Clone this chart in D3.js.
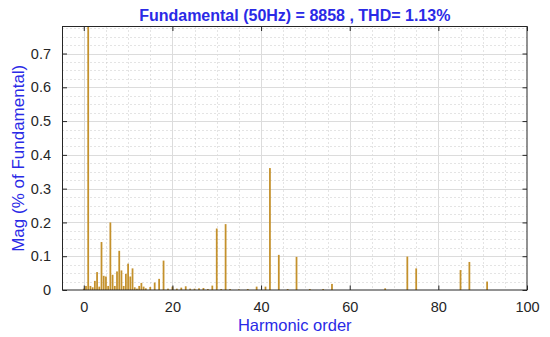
<!DOCTYPE html>
<html>
<head>
<meta charset="utf-8">
<script src="https://cdn.jsdelivr.net/npm/d3@7"></script>
<style>
  html, body { margin: 0; padding: 0; background: #ffffff; }
  svg { display: block; }
  text { font-family: "Liberation Sans", Arial, sans-serif; }
</style>
</head>
<body>
<svg id="chart" width="550" height="337"></svg>
<script>
// ---- data ----
const titleText = "Fundamental (50Hz) = 8858 , THD= 1.13%";
const xLabelText = "Harmonic order";
const yLabelText = "Mag (% of Fundamental)";

const harmonics = [0, 0.5, 1, 1.5, 2, 2.5, 3, 3.5, 4, 4.5, 5, 5.5, 6, 6.5, 7, 7.5, 8, 8.5, 9, 9.5,
  10, 10.5, 11, 11.5, 12, 12.5, 13, 13.5, 14, 15, 16, 17, 18, 19, 20, 21, 22, 23, 24, 25, 26, 27, 28, 29,
  30, 31, 32, 33, 35, 37, 39, 41, 42, 44, 46, 48, 51, 54, 56, 68, 73, 75, 85, 87, 91];
const magnitudes = [0.004, 0.012, 100, 0.012, 0.008, 0.027, 0.053, 0.010, 0.142, 0.042, 0.040, 0.012, 0.200, 0.045, 0.012, 0.055, 0.116, 0.058, 0.012, 0.048,
  0.078, 0.040, 0.064, 0.008, 0.004, 0.012, 0.021, 0.010, 0.005, 0.009, 0.022, 0.033, 0.087, 0.004, 0.010, 0.004, 0.007, 0.011, 0.004, 0.004, 0.005, 0.006, 0.003, 0.013,
  0.182, 0.003, 0.195, 0.003, 0.002, 0.003, 0.010, 0.010, 0.361, 0.104, 0.003, 0.098, 0.003, 0.003, 0.018, 0.005, 0.099, 0.064, 0.059, 0.083, 0.025];

const xTicks = [0, 20, 40, 60, 80, 100];
const yTicks = [0, 0.1, 0.2, 0.3, 0.4, 0.5, 0.6, 0.7];
const xMinorTicks = d3.range(0, 101, 5);
const yMinorTicks = d3.range(0, 0.78, 0.025);

// ---- layout ----
const L = 62.5, R = 527, T = 26.5, B = 290;
const svg = d3.select("#chart");

const x = d3.scaleLinear().domain([-4.8, 100]).range([L, R]);
const y = d3.scaleLinear().domain([0, 0.78]).range([B, T]);

svg.append("rect").attr("x", 0).attr("y", 0).attr("width", 550).attr("height", 337).attr("fill", "#ffffff");

svg.append("defs").append("clipPath").attr("id", "plotclip")
  .append("rect").attr("x", L).attr("y", T).attr("width", R - L).attr("height", B - T);

// minor grid (dotted)
const grid = svg.append("g");
grid.selectAll(".vminor").data(xMinorTicks.filter(v => xTicks.indexOf(v) < 0))
  .join("line")
  .attr("x1", d => Math.round(x(d)) + 0.5).attr("x2", d => Math.round(x(d)) + 0.5)
  .attr("y1", T).attr("y2", B)
  .attr("stroke", "#c8c8c8").attr("stroke-width", 1).attr("stroke-dasharray", "1,3");
grid.selectAll(".hminor").data(yMinorTicks.filter(v => Math.abs(v * 10 - Math.round(v * 10)) > 1e-6))
  .join("line")
  .attr("y1", d => Math.round(y(d)) + 0.5).attr("y2", d => Math.round(y(d)) + 0.5)
  .attr("x1", L).attr("x2", R)
  .attr("stroke", "#c8c8c8").attr("stroke-width", 1).attr("stroke-dasharray", "1,3");

// major grid (solid)
grid.selectAll(".vmajor").data(xTicks.filter(v => v < 100))
  .join("line")
  .attr("x1", d => Math.round(x(d)) + 0.5).attr("x2", d => Math.round(x(d)) + 0.5)
  .attr("y1", T).attr("y2", B)
  .attr("stroke", "#dcdcdc").attr("stroke-width", 1);
grid.selectAll(".hmajor").data(yTicks.filter(v => v > 0))
  .join("line")
  .attr("y1", d => Math.round(y(d)) + 0.5).attr("y2", d => Math.round(y(d)) + 0.5)
  .attr("x1", L).attr("x2", R)
  .attr("stroke", "#dcdcdc").attr("stroke-width", 1);

// bars
const barW = Math.max(1.6, x(0.4) - x(0));
svg.append("g").attr("clip-path", "url(#plotclip)")
  .selectAll("rect").data(harmonics.map((h, i) => ({ h, v: magnitudes[i] })))
  .join("rect")
  .attr("x", d => x(d.h) - barW / 2)
  .attr("width", barW)
  .attr("y", d => y(Math.min(d.v, 0.8)))
  .attr("height", d => B - y(Math.min(d.v, 0.8)))
  .attr("fill", "#c4912c");

// axes (ticks inside, mirrored)
const tickLen = 4.5;
const axisColor = "#262626";
const xAxisB = svg.append("g").attr("transform", `translate(0,${B})`)
  .call(d3.axisBottom(x).tickValues(xTicks).tickSizeInner(-tickLen).tickSizeOuter(0).tickPadding(7.5 + tickLen));
const xAxisT = svg.append("g").attr("transform", `translate(0,${T})`)
  .call(d3.axisTop(x).tickValues(xTicks).tickSizeInner(-tickLen).tickSizeOuter(0).tickFormat(""));
const yAxisL = svg.append("g").attr("transform", `translate(${L},0)`)
  .call(d3.axisLeft(y).tickValues(yTicks).tickSizeInner(-tickLen).tickSizeOuter(0).tickPadding(7 + tickLen)
    .tickFormat(d => d === 0 ? "0" : d3.format(".1f")(d)));
const yAxisR = svg.append("g").attr("transform", `translate(${R},0)`)
  .call(d3.axisRight(y).tickValues(yTicks).tickSizeInner(-tickLen).tickSizeOuter(0).tickFormat(""));

[xAxisB, xAxisT, yAxisL, yAxisR].forEach(g => {
  g.select(".domain").remove();
  g.selectAll("line").attr("stroke", axisColor);
  g.selectAll("text").attr("fill", axisColor).style("font-size", "14.5px")
    .style("font-family", '"Liberation Sans", Arial, sans-serif');
});

// frame
svg.append("rect").attr("x", L).attr("y", T).attr("width", R - L).attr("height", B - T)
  .attr("fill", "none").attr("stroke", axisColor).attr("stroke-width", 1);

// title and labels
svg.append("text").attr("x", (L + R) / 2).attr("y", 21)
  .attr("text-anchor", "middle").attr("fill", "#2a2ae6")
  .style("font-size", "16px").style("font-weight", "bold")
  .text(titleText);

svg.append("text").attr("x", (L + R) / 2).attr("y", 330.5)
  .attr("text-anchor", "middle").attr("fill", "#2a2ae6")
  .style("font-size", "16.5px")
  .text(xLabelText);

svg.append("text").attr("transform", `translate(24,${(T + B) / 2}) rotate(-90)`)
  .attr("text-anchor", "middle").attr("fill", "#2a2ae6")
  .style("font-size", "17px")
  .text(yLabelText);
</script>
</body>
</html>
